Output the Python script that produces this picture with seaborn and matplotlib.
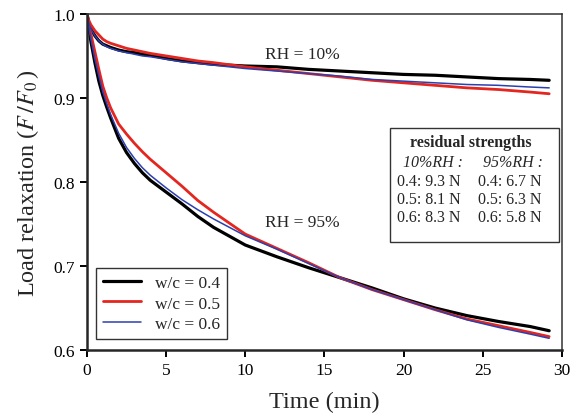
import matplotlib
matplotlib.use('Agg')
import matplotlib.pyplot as plt
import seaborn as sns
import pandas as pd
from matplotlib.patches import Rectangle

# time axis (min) shared by all curves
t = [0, 0.1, 0.25, 0.5, 0.75, 1, 1.25, 1.5, 2, 2.5, 3, 3.5, 4, 5, 6, 7, 8,
     10, 12, 14, 16, 18, 20, 22, 24, 26, 28, 29.2]

# RH = 10 %
rh10_04 = [1.0, 0.990, 0.982, 0.974, 0.968, 0.964, 0.962, 0.960, 0.957, 0.955, 0.954, 0.952, 0.951,
           0.947, 0.944, 0.942, 0.940, 0.938, 0.937, 0.934, 0.932, 0.930, 0.928, 0.927, 0.925,
           0.923, 0.922, 0.921]
rh10_05 = [1.0, 0.993, 0.987, 0.980, 0.975, 0.970, 0.967, 0.965, 0.962, 0.959, 0.957, 0.955, 0.953,
           0.950, 0.947, 0.944, 0.942, 0.937, 0.933, 0.929, 0.925, 0.921, 0.918, 0.915, 0.912,
           0.910, 0.907, 0.905]
rh10_06 = [1.0, 0.990, 0.982, 0.974, 0.968, 0.964, 0.961, 0.959, 0.956, 0.954, 0.952, 0.950, 0.949,
           0.946, 0.943, 0.941, 0.939, 0.935, 0.932, 0.929, 0.926, 0.922, 0.920, 0.918, 0.916,
           0.915, 0.913, 0.912]

# RH = 95 %
rh95_04 = [1.0, 0.985, 0.967, 0.942, 0.920, 0.903, 0.889, 0.876, 0.852, 0.835, 0.822, 0.811, 0.802,
           0.788, 0.774, 0.759, 0.746, 0.725, 0.711, 0.698, 0.686, 0.674, 0.661, 0.650, 0.641,
           0.634, 0.628, 0.623]
rh95_05 = [1.0, 0.990, 0.976, 0.955, 0.934, 0.914, 0.900, 0.888, 0.869, 0.857, 0.846, 0.836, 0.827,
           0.811, 0.795, 0.778, 0.764, 0.738, 0.721, 0.704, 0.686, 0.672, 0.660, 0.648, 0.637,
           0.629, 0.621, 0.616]
rh95_06 = [1.0, 0.987, 0.970, 0.946, 0.926, 0.907, 0.893, 0.880, 0.858, 0.841, 0.828, 0.817, 0.808,
           0.793, 0.779, 0.767, 0.756, 0.736, 0.720, 0.703, 0.686, 0.672, 0.660, 0.648, 0.636,
           0.627, 0.619, 0.614]

labels = ['w/c = 0.4', 'w/c = 0.5', 'w/c = 0.6']
colors = ['black', '#e3261f', '#2c3fae']
widths = [2.3, 2.0, 1.1]

residual_10 = ['0.4: 9.3 N', '0.5: 8.1 N', '0.6: 8.3 N']
residual_95 = ['0.4: 6.7 N', '0.5: 6.3 N', '0.6: 5.8 N']

sns.set_style('ticks')
matplotlib.rcParams['font.family'] = ['Liberation Serif', 'DejaVu Serif']
matplotlib.rcParams['mathtext.fontset'] = 'stix'

fig = plt.figure(figsize=(5.81, 4.14), dpi=100)
ax = fig.add_axes([0.1497, 0.152, 0.8173, 0.812])

for i, (s10, s95) in enumerate([(rh10_04, rh95_04), (rh10_05, rh95_05), (rh10_06, rh95_06)]):
    d10 = pd.DataFrame({'t': t, 'v': s10})
    d95 = pd.DataFrame({'t': t, 'v': s95})
    sns.lineplot(data=d10, x='t', y='v', color=colors[i], lw=widths[i], ax=ax)
    sns.lineplot(data=d95, x='t', y='v', color=colors[i], lw=widths[i], ax=ax, label=labels[i])

ax.set_xlim(0, 30)
ax.set_ylim(0.6, 1.0)
ax.set_xticks([0, 5, 10, 15, 20, 25, 30])
ax.set_yticks([0.6, 0.7, 0.8, 0.9, 1.0])
ax.set_yticklabels(['0.6', '0.7', '0.8', '0.9', '1.0'])
ax.tick_params(labelsize=12.5, direction='out', length=5, width=1.4, colors='black')
ax.set_xlabel('Time (min)', fontsize=17.5, labelpad=9)
ax.set_ylabel(r'Load relaxation ($F\,/F_0\,$)', fontsize=17.5, labelpad=9)
for side in ['left', 'bottom']:
    ax.spines[side].set_linewidth(1.8)
for side in ['top', 'right']:
    ax.spines[side].set_visible(True)
    ax.spines[side].set_linewidth(1.1)
    ax.spines[side].set_color('#333333')

ax.text(11.24, 0.952, 'RH = 10%', fontsize=12.5, va='center', ha='left')
ax.text(11.24, 0.752, 'RH = 95%', fontsize=12.5, va='center', ha='left')

leg = ax.legend(loc='lower left', bbox_to_anchor=(0.019, 0.033), borderaxespad=0,
                fontsize=12.5, frameon=True, fancybox=False, handlelength=2.2,
                labelspacing=0.25, borderpad=0.4, handletextpad=0.8)
leg.get_frame().set_edgecolor('#333333')
leg.get_frame().set_linewidth(1.0)
leg.get_frame().set_alpha(1)

# residual strengths box
ax.add_patch(Rectangle((0.639, 0.3205), 0.355, 0.3395, transform=ax.transAxes,
                       fill=False, edgecolor='#333333', lw=1.0, zorder=5))
ax.text(0.809, 0.619, 'residual strengths', transform=ax.transAxes, ha='center',
        va='center', fontsize=11.5, fontweight='bold')
ax.text(0.665, 0.559, '10%RH :', transform=ax.transAxes, ha='left', va='center',
        fontsize=11.5, style='italic')
ax.text(0.834, 0.559, '95%RH :', transform=ax.transAxes, ha='left', va='center',
        fontsize=11.5, style='italic')
row_y = [0.504, 0.449, 0.395]
for i in range(3):
    ax.text(0.652, row_y[i], residual_10[i], transform=ax.transAxes, ha='left',
            va='center', fontsize=11.5)
    ax.text(0.823, row_y[i], residual_95[i], transform=ax.transAxes, ha='left',
            va='center', fontsize=11.5)

fig.savefig('out.png', dpi=100)
